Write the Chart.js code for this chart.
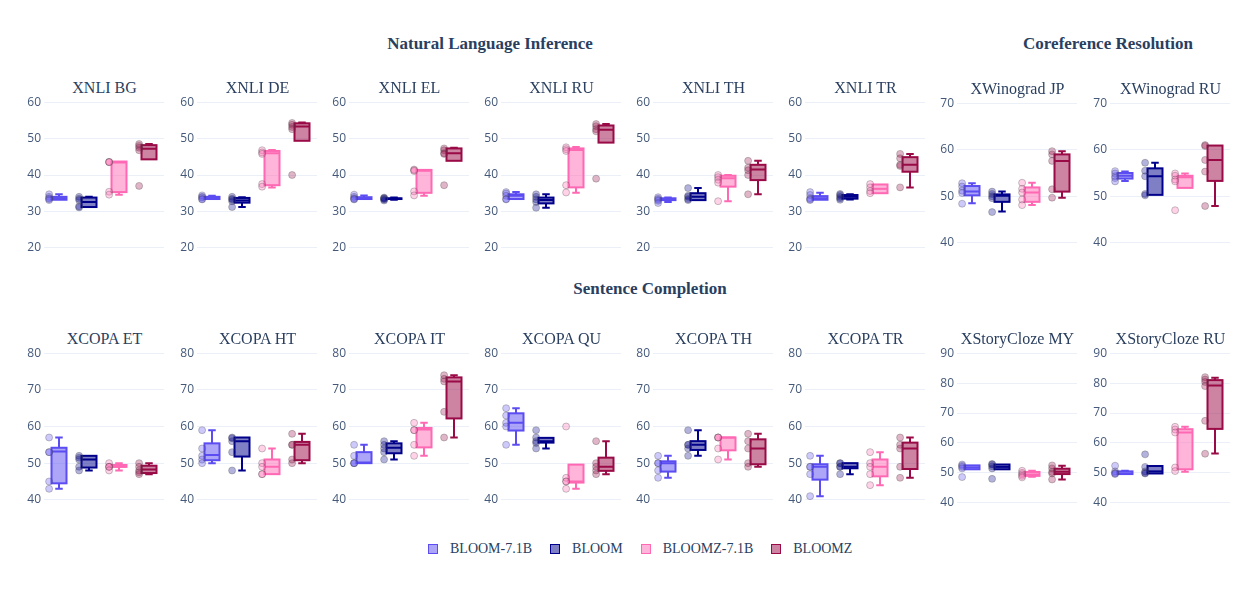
<!DOCTYPE html>
<html>
<head>
<meta charset="utf-8">
<script src="https://cdn.jsdelivr.net/npm/chart.js@4.4.1/dist/chart.umd.min.js"></script>
<style>
  html, body { margin: 0; padding: 0; background: #fff; }
  #page { position: relative; width: 1256px; height: 591px; overflow: hidden;
          font-family: "Liberation Serif", "Times New Roman", serif; color: #2a3f5f; }
  #page canvas { position: absolute; }
  .title { position: absolute; width: 260px; text-align: center; font-size: 16px;
           line-height: 20px; white-space: nowrap; }
  .group { font-weight: bold; font-size: 17px; }
  #legend { position: absolute; left: 428px; top: 540px; height: 18px; display: flex;
            align-items: center; font-size: 14px; white-space: nowrap; }
  .item { display: flex; align-items: center; margin-right: 18px; }
  .swatch { width: 8px; height: 8px; border: 1.5px solid; margin-right: 12px; }
</style>
</head>
<body>
<div id="page"></div>
<script>
// Zero-shot scores per prompt, 4 models x 16 tasks, drawn as box plots.
const models = ['BLOOM-7.1B', 'BLOOM', 'BLOOMZ-7.1B', 'BLOOMZ'];
const modelColors = ['#5b4df2', '#00008b', '#ff69b4', '#990a46'];

const nliTicks = [20, 30, 40, 50, 60];
const winoTicks = [40, 50, 60, 70];
const copaTicks = [40, 50, 60, 70, 80];
const clozeTicks = [40, 50, 60, 70, 80, 90];

// points: one list per model; box: [lower whisker, q1, median, q3, upper whisker] per model
const xnliBgPts = [[34.7, 34.0, 33.6, 33.4, 33.1], [34.0, 33.5, 33.1, 31.4, 31.1], [43.6, 43.6, 43.5, 35.4, 34.6], [48.5, 48.0, 47.5, 46.8, 37.0]];
const xnliBgBox = [[33.1, 33.2, 33.6, 34.0, 34.7], [31.1, 31.2, 32.6, 33.8, 34.0], [34.6, 35.3, 43.4, 43.7, 43.7], [44.3, 44.3, 47.2, 48.2, 48.5]];
const xnliDePts = [[34.4, 34.0, 33.8, 33.4, 33.3], [34.0, 33.5, 33.3, 32.8, 31.2], [46.8, 46.2, 45.8, 37.5, 36.8], [54.3, 53.8, 53.2, 52.6, 40.0]];
const xnliDeBox = [[33.3, 33.4, 33.8, 34.0, 34.3], [31.2, 32.4, 33.0, 33.7, 33.9], [36.6, 37.2, 46.0, 46.6, 46.9], [49.4, 49.4, 53.3, 54.2, 54.4]];
const xnliElPts = [[34.6, 34.0, 33.6, 33.4, 33.3], [33.8, 33.6, 33.5, 33.3, 33.0], [41.5, 41.3, 41.1, 35.5, 34.4], [47.3, 46.8, 46.0, 45.8, 37.2]];
const xnliElBox = [[33.3, 33.4, 33.6, 33.9, 34.4], [33.2, 33.4, 33.5, 33.6, 33.8], [34.3, 35.1, 41.2, 41.4, 41.5], [43.9, 43.9, 46.0, 47.3, 47.5]];
const xnliRuPts = [[35.3, 34.9, 34.3, 33.4, 33.3], [34.7, 34.0, 33.3, 32.6, 31.0], [47.6, 47.1, 46.6, 37.2, 35.2], [54.0, 53.4, 52.6, 52.0, 39.0]];
const xnliRuBox = [[33.3, 33.4, 34.3, 34.7, 35.3], [31.0, 32.2, 33.1, 33.8, 34.7], [35.1, 36.6, 46.9, 47.3, 47.7], [48.9, 48.9, 52.4, 53.6, 54.0]];
const xnliThPts = [[33.9, 33.5, 33.2, 32.9, 32.3], [36.4, 34.3, 34.0, 33.4, 33.1], [40.0, 39.4, 38.7, 37.9, 32.8], [43.9, 42.0, 41.3, 40.0, 34.7]];
const xnliThBox = [[32.6, 33.1, 33.3, 33.6, 33.8], [33.1, 33.1, 34.0, 35.0, 36.4], [32.8, 36.8, 39.1, 39.8, 40.0], [34.7, 38.6, 41.5, 42.8, 43.9]];
const xnliTrPts = [[35.3, 34.5, 33.6, 33.3, 33.1], [34.8, 34.5, 34.0, 33.6, 33.2], [37.5, 36.6, 35.6, 35.0], [45.8, 44.6, 42.8, 42.5, 36.6]];
const xnliTrBox = [[33.1, 33.2, 33.6, 34.2, 35.1], [33.3, 33.5, 34.0, 34.5, 34.7], [35.0, 35.0, 36.2, 37.4, 37.5], [36.6, 40.9, 42.8, 44.9, 45.8]];
const winoJpPts = [[52.8, 52.1, 51.2, 50.7, 48.4], [51.0, 50.5, 50.0, 49.6, 46.6], [52.9, 51.6, 50.8, 49.3, 48.1], [59.7, 59.0, 57.6, 51.5, 49.7]];
const winoJpBox = [[48.5, 50.2, 51.0, 52.2, 52.8], [46.7, 48.8, 50.1, 50.4, 51.0], [48.1, 48.8, 50.8, 51.9, 52.9], [49.7, 51.0, 57.6, 59.0, 59.7]];
const winoRuPts = [[55.4, 54.9, 54.3, 53.9, 53.2], [57.2, 55.5, 54.3, 50.5, 50.2], [54.9, 54.4, 53.6, 53.2, 47.0], [61.0, 60.8, 57.8, 55.3, 47.9]];
const winoRuBox = [[53.3, 53.8, 54.4, 55.0, 55.3], [50.2, 50.3, 54.3, 56.0, 57.2], [51.8, 51.8, 54.1, 54.4, 54.9], [47.9, 53.3, 57.8, 60.9, 61.0]];
const copaEtPts = [[57, 53, 53, 45, 43], [52, 51.5, 51, 49, 48], [50, 49, 49, 49, 48], [50, 49, 48, 47.5, 47]];
const copaEtBox = [[43, 44.5, 53.2, 54.2, 57], [48, 48.8, 51, 52, 52], [48, 49, 49, 49.5, 50], [47, 47.3, 48.3, 49.3, 50]];
const copaHtPts = [[59, 54, 52, 51, 50], [57, 56.8, 56, 53, 48], [54, 50, 49, 47, 47], [58, 55, 55, 51, 50]];
const copaHtBox = [[50, 50.8, 52.2, 55.4, 59], [48, 51.8, 56, 57, 57], [47, 47, 49, 51, 54], [50, 50.8, 55, 55.8, 58]];
const copaItPts = [[55, 52, 50, 50, 50], [56, 55, 54, 53, 51], [61, 59, 59, 55, 52], [74, 73, 72.3, 64, 57]];
const copaItBox = [[50, 50, 50.2, 53, 55], [51, 52.7, 54.2, 55.4, 56], [52, 54.3, 59.2, 59.6, 61], [57, 62.2, 72.3, 73.4, 74]];
const copaQuPts = [[65, 63, 61, 60, 55], [59, 57, 56, 55.5, 54], [60, 46, 45, 45, 43], [56, 50, 49, 48, 47]];
const copaQuBox = [[55, 58.9, 61, 63.6, 65], [54, 55.6, 56, 56.9, 57], [43, 44.7, 45, 49.6, 49.6], [47, 47.9, 49, 51.5, 56]];
const copaThPts = [[52, 50, 50, 48, 46], [59, 55, 55, 54, 52], [57, 57, 57, 54, 51], [58, 56, 54, 50, 49]];
const copaThBox = [[46, 47.7, 50, 50.5, 52], [52, 53.6, 55, 56, 59], [51, 53.5, 57, 57, 57], [49, 49.7, 54, 56.5, 58]];
const copaTrPts = [[52, 49, 49, 47, 41], [50, 50, 49, 49, 47], [53, 50, 49, 47, 44], [57, 55, 54, 49, 46]];
const copaTrBox = [[41, 45.5, 49, 49.7, 52], [47, 48.6, 49, 50, 50], [44, 46.4, 49, 51, 53], [46, 48.4, 54, 55.6, 57]];
const clozeMyPts = [[52.8, 52.4, 52.0, 51.5, 48.6], [53.0, 52.8, 52.2, 51.5, 48.0], [50.7, 50.0, 49.5, 49.0, 48.5], [52.5, 51.5, 50.3, 49.8, 47.8]];
const clozeMyBox = [[51.2, 51.2, 51.8, 52.5, 52.6], [51.2, 51.2, 52.0, 52.8, 52.9], [48.7, 49.0, 49.5, 50.3, 50.7], [47.8, 49.6, 50.4, 51.4, 52.4]];
const clozeRuPts = [[52.4, 50.5, 50.0, 49.8, 49.6], [56.2, 52.0, 50.5, 50.0, 49.8], [65.4, 64.5, 63.5, 51.8, 50.6], [82.0, 81.2, 80.4, 79.0, 67.4, 56.4]];
const clozeRuBox = [[49.6, 49.6, 49.8, 50.5, 50.7], [49.8, 49.8, 50.5, 52.3, 52.4], [50.4, 51.2, 63.5, 64.6, 65.4], [56.5, 64.7, 79.2, 81.0, 81.8]];

// layout: plot area left edge per column, plot top/bottom per panel kind
const colX = [44, 197, 349, 501, 653, 805, 957, 1110];
const plotW = 121;

const panels = [
  { title: 'XNLI BG', pts: xnliBgPts, box: xnliBgBox, ticks: nliTicks, col: 0, top: 102, bottom: 248 },
  { title: 'XNLI DE', pts: xnliDePts, box: xnliDeBox, ticks: nliTicks, col: 1, top: 102, bottom: 248 },
  { title: 'XNLI EL', pts: xnliElPts, box: xnliElBox, ticks: nliTicks, col: 2, top: 102, bottom: 248 },
  { title: 'XNLI RU', pts: xnliRuPts, box: xnliRuBox, ticks: nliTicks, col: 3, top: 102, bottom: 248 },
  { title: 'XNLI TH', pts: xnliThPts, box: xnliThBox, ticks: nliTicks, col: 4, top: 102, bottom: 248 },
  { title: 'XNLI TR', pts: xnliTrPts, box: xnliTrBox, ticks: nliTicks, col: 5, top: 102, bottom: 248 },
  { title: 'XWinograd JP', pts: winoJpPts, box: winoJpBox, ticks: winoTicks, col: 6, top: 103, bottom: 243 },
  { title: 'XWinograd RU', pts: winoRuPts, box: winoRuBox, ticks: winoTicks, col: 7, top: 103, bottom: 243 },
  { title: 'XCOPA ET', pts: copaEtPts, box: copaEtBox, ticks: copaTicks, col: 0, top: 353, bottom: 500 },
  { title: 'XCOPA HT', pts: copaHtPts, box: copaHtBox, ticks: copaTicks, col: 1, top: 353, bottom: 500 },
  { title: 'XCOPA IT', pts: copaItPts, box: copaItBox, ticks: copaTicks, col: 2, top: 353, bottom: 500 },
  { title: 'XCOPA QU', pts: copaQuPts, box: copaQuBox, ticks: copaTicks, col: 3, top: 353, bottom: 500 },
  { title: 'XCOPA TH', pts: copaThPts, box: copaThBox, ticks: copaTicks, col: 4, top: 353, bottom: 500 },
  { title: 'XCOPA TR', pts: copaTrPts, box: copaTrBox, ticks: copaTicks, col: 5, top: 353, bottom: 500 },
  { title: 'XStoryCloze MY', pts: clozeMyPts, box: clozeMyBox, ticks: clozeTicks, col: 6, top: 353, bottom: 503 },
  { title: 'XStoryCloze RU', pts: clozeRuPts, box: clozeRuBox, ticks: clozeTicks, col: 7, top: 353, bottom: 503 },
];

const groupTitles = [
  { text: 'Natural Language Inference', cx: 490, cy: 44 },
  { text: 'Coreference Resolution', cx: 1108, cy: 44 },
  { text: 'Sentence Completion', cx: 650, cy: 289 },
];

function rgba(hex, a) {
  const n = parseInt(hex.slice(1), 16);
  return `rgba(${(n >> 16) & 255},${(n >> 8) & 255},${n & 255},${a})`;
}

// draws box + median + whiskers for each model, positioned through the chart scales
function boxPlugin(stats) {
  return {
    id: 'boxes',
    beforeDatasetsDraw(chart) {
      const { ctx, scales: { x, y } } = chart;
      stats.forEach((s, i) => {
        const [lw, q1, med, q3, uw] = s.map((v) => y.getPixelForValue(v));
        const xc = x.getPixelForValue(i);
        const hw = x.getPixelForValue(i + 0.25) - xc;
        const cw = hw / 2;
        ctx.save();
        ctx.lineWidth = 2;
        ctx.strokeStyle = modelColors[i];
        ctx.fillStyle = rgba(modelColors[i], 0.5);
        ctx.fillRect(xc - hw, q3, hw * 2, q1 - q3);
        ctx.strokeRect(xc - hw, q3, hw * 2, q1 - q3);
        ctx.beginPath();
        ctx.moveTo(xc - hw, med); ctx.lineTo(xc + hw, med);
        if (uw < q3 - 0.5) {
          ctx.moveTo(xc, q3); ctx.lineTo(xc, uw);
          ctx.moveTo(xc - cw, uw); ctx.lineTo(xc + cw, uw);
        }
        if (lw > q1 + 0.5) {
          ctx.moveTo(xc, q1); ctx.lineTo(xc, lw);
          ctx.moveTo(xc - cw, lw); ctx.lineTo(xc + cw, lw);
        }
        ctx.stroke();
        ctx.restore();
      });
    },
  };
}

const page = document.getElementById('page');

function addTitle(text, cx, cy, cls) {
  const d = document.createElement('div');
  d.className = 'title' + (cls ? ' ' + cls : '');
  d.textContent = text;
  d.style.left = (cx - 130) + 'px';
  d.style.top = (cy - 10) + 'px';
  page.appendChild(d);
}

groupTitles.forEach((g) => addTitle(g.text, g.cx, g.cy, 'group'));

const padTop = 10, padBottom = 10, axisW = 40;

panels.forEach((p) => {
  const left = colX[p.col];
  addTitle(p.title, left + plotW / 2, p.top - 14);

  const canvas = document.createElement('canvas');
  const w = axisW + plotW + 4;
  const h = p.bottom - p.top + padTop + padBottom;
  canvas.width = w; canvas.height = h;
  canvas.style.left = (left - axisW) + 'px';
  canvas.style.top = (p.top - padTop) + 'px';
  canvas.style.width = w + 'px'; canvas.style.height = h + 'px';
  page.appendChild(canvas);

  new Chart(canvas, {
    type: 'scatter',
    data: {
      datasets: models.map((m, i) => ({
        label: m,
        data: p.pts[i].map((v) => ({ x: i - 0.33, y: v })),
        backgroundColor: rgba(modelColors[i], 0.3),
        borderColor: 'rgba(68,68,68,0.3)',
        borderWidth: 1,
        pointRadius: 3.5,
        clip: false,
      })),
    },
    options: {
      responsive: false, animation: false, devicePixelRatio: 1,
      layout: { padding: { top: padTop, bottom: padBottom, left: 0, right: 4 } },
      plugins: { legend: { display: false }, tooltip: { enabled: false } },
      scales: {
        x: { type: 'linear', display: false, min: -0.5, max: 3.5 },
        y: {
          min: p.ticks[0], max: p.ticks[p.ticks.length - 1],
          afterBuildTicks: (s) => { s.ticks = p.ticks.map((v) => ({ value: v })); },
          afterFit: (s) => { s.width = axisW; },
          border: { display: false },
          grid: { color: '#ebf0f8', lineWidth: 1, drawTicks: false },
          ticks: { padding: 3, color: '#44597a', font: { family: '"Open Sans", sans-serif', size: 12 } },
        },
      },
    },
    plugins: [boxPlugin(p.box)],
  });
});

// legend
const legend = document.createElement('div');
legend.id = 'legend';
models.forEach((m, i) => {
  const item = document.createElement('div');
  item.className = 'item';
  const sw = document.createElement('span');
  sw.className = 'swatch';
  sw.style.borderColor = modelColors[i];
  sw.style.background = rgba(modelColors[i], 0.5);
  const label = document.createElement('span');
  label.textContent = m;
  item.appendChild(sw); item.appendChild(label);
  legend.appendChild(item);
});
page.appendChild(legend);
</script>
</body>
</html>
